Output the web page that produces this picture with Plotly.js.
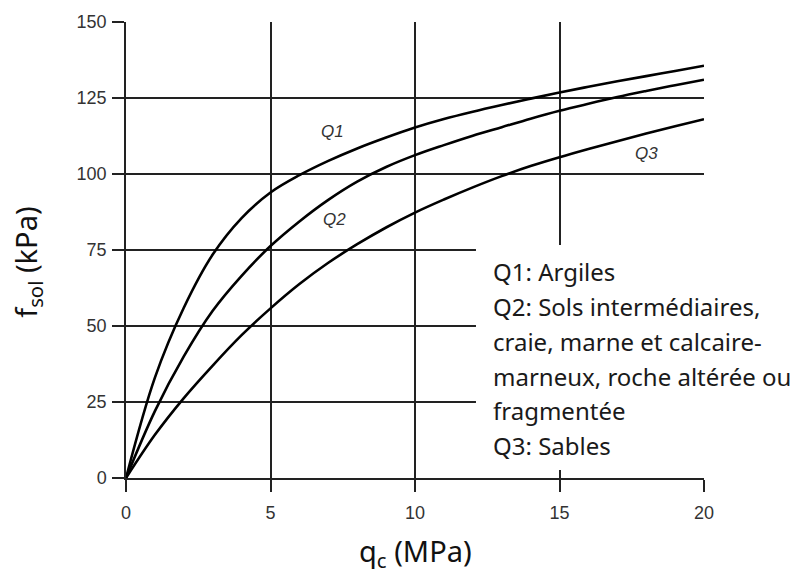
<!DOCTYPE html>
<html>
<head>
<meta charset="utf-8">
<script src="https://cdn.plot.ly/plotly-3.0.1.min.js"></script>
<style>html,body{margin:0;padding:0;background:#fff;}#chart{width:803px;height:574px;}</style>
</head>
<body>
<div id="chart"></div>
<script>
// q_c (MPa)
const qc = [0, 1, 2, 3, 4, 5, 6, 7, 8, 9, 10, 11, 12, 13, 14, 15, 16, 17, 18, 19, 20];
// f_sol (kPa) for each curve
const q1 = [0, 33, 56, 73.5, 85.5, 93.9, 99.6, 104.3, 108.4, 112, 115.3, 118.1, 120.5, 122.7, 124.8, 126.8, 128.7, 130.5, 132.2, 133.9, 135.6];
const q2 = [0, 22, 40, 55, 66.5, 76.3, 84.4, 91.5, 97.5, 102.3, 106.2, 109.5, 112.6, 115.4, 118.2, 120.8, 123.1, 125.3, 127.3, 129.2, 131];
const q3 = [0, 14.2, 26.3, 37, 47, 55.8, 63.8, 70.8, 76.9, 82.4, 87.3, 91.6, 95.6, 99.3, 102.6, 105.5, 108.2, 110.8, 113.3, 115.7, 118];
const curveNames = ['Q1', 'Q2', 'Q3'];
const curveLabelX = [7.15, 7.2, 18.0];
const curveLabelY = [114, 85, 106.8];
const xTicks = [0, 5, 10, 15, 20];
const yTicks = [0, 25, 50, 75, 100, 125, 150];
const xTitle = 'q<sub>c</sub> (MPa)';
const yTitle = 'f<sub>sol</sub> (kPa)';
const legendLines = [
  'Q1: Argiles',
  'Q2: Sols intermédiaires,',
  'craie, marne et calcaire-',
  'marneux, roche altérée ou',
  'fragmentée',
  'Q3: Sables'
];

const series = [q1, q2, q3];
const traces = series.map((ys, i) => ({
  x: qc, y: ys, name: curveNames[i], type: 'scatter', mode: 'lines',
  line: {color: '#000', width: 2.6, shape: 'spline', smoothing: 1},
  hoverinfo: 'x+y+name', showlegend: false
}));

const titleFont = {family: 'Noto Sans, Open Sans, sans-serif', size: 29, color: '#111'};
const annotations = curveNames.map((n, i) => ({
  x: curveLabelX[i], y: curveLabelY[i], xref: 'x', yref: 'y', text: '<i>' + n + '</i>',
  showarrow: false, font: {family: 'Liberation Sans, Arial, sans-serif', size: 17, color: '#333'}
}));
const textX = 12.62, textY0 = 67.9, textStep = 11.45;
legendLines.forEach((t, i) => {
  annotations.push({
    x: textX, y: textY0 - i * textStep, xref: 'x', yref: 'y', xanchor: 'left', yanchor: 'middle',
    text: t, showarrow: false, align: 'left',
    font: {family: 'Noto Sans, Open Sans, sans-serif', size: 24, color: '#1a1a1a'}
  });
});
// axis titles
annotations.push({
  x: 0.5, y: -0.164, xref: 'paper', yref: 'paper', xanchor: 'center', yanchor: 'middle',
  text: xTitle, showarrow: false, font: titleFont
});
annotations.push({
  x: -0.1696, y: 0.474, xref: 'paper', yref: 'paper', xanchor: 'center', yanchor: 'middle',
  text: yTitle, textangle: -90, showarrow: false, font: titleFont
});

const layout = {
  width: 803, height: 574,
  margin: {l: 126, r: 99, t: 22, b: 96},
  paper_bgcolor: '#fff', plot_bgcolor: '#fff',
  showlegend: false,
  xaxis: {
    range: [0, 20], tickvals: xTicks, ticktext: xTicks.map(String),
    ticks: 'outside', ticklen: 12, tickwidth: 1.5, tickcolor: '#222', ticklabelstandoff: 6,
    showgrid: true, gridcolor: '#222', gridwidth: 1.5,
    showline: true, linecolor: '#222', linewidth: 1.5,
    zeroline: false, fixedrange: true,
    tickfont: {family: 'Liberation Sans, Arial, sans-serif', size: 18, color: '#333'}
  },
  yaxis: {
    range: [0, 150], tickvals: yTicks, ticktext: yTicks.map(String),
    ticks: 'outside', ticklen: 12, tickwidth: 1.5, tickcolor: '#222', ticklabelstandoff: 2,
    showgrid: true, gridcolor: '#222', gridwidth: 1.5,
    showline: true, linecolor: '#222', linewidth: 1.5,
    zeroline: false, fixedrange: true,
    tickfont: {family: 'Liberation Sans, Arial, sans-serif', size: 18, color: '#333'}
  },
  shapes: [{
    type: 'rect', xref: 'paper', yref: 'paper',
    x0: 0.6055, x1: 1.25, y0: 0.0175, y1: 0.511,
    fillcolor: '#fff', line: {width: 0}, layer: 'above'
  }],
  annotations: annotations
};

Plotly.newPlot('chart', traces, layout, {displayModeBar: false, staticPlot: false});
</script>
</body>
</html>
